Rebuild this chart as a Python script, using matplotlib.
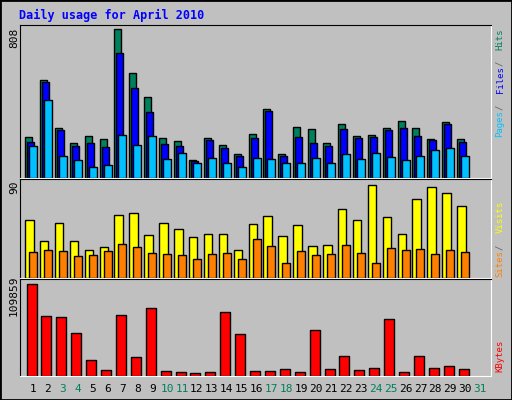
import numpy as np
import matplotlib.pyplot as plt

days = list(range(1, 32))
hits = [223, 534, 271, 188, 227, 210, 808, 567, 441, 216, 199, 95, 216, 177, 128,
        238, 375, 128, 276, 265, 188, 292, 227, 232, 271, 309, 271, 210, 303, 210]
files = [194, 523, 260, 172, 188, 166, 676, 490, 358, 183, 172, 90, 205, 161, 122,
         216, 364, 122, 221, 188, 172, 265, 216, 221, 260, 271, 227, 205, 292, 194]
pages = [172, 424, 117, 95, 62, 68, 232, 177, 227, 101, 133, 84, 106, 79, 62,
         106, 101, 79, 84, 106, 79, 128, 101, 133, 112, 95, 117, 150, 161, 122]
visits = [56, 36, 53, 36, 27, 30, 61, 63, 42, 53, 47, 40, 43, 43, 27,
          52, 60, 41, 51, 31, 32, 67, 56, 90, 59, 43, 76, 88, 82, 70]
sites = [25, 27, 26, 21, 22, 26, 33, 30, 24, 23, 22, 18, 23, 24, 18,
         38, 31, 15, 26, 22, 23, 32, 24, 15, 29, 27, 28, 23, 27, 25]
kbytes = [109859, 71370, 70166, 50920, 18444, 7618, 72573, 22052, 80993, 6415,
          5212, 4009, 5212, 76181, 49717, 6415, 6415, 8821, 5212, 54529,
          8821, 23255, 7618, 10024, 67760, 5212, 23255, 10024, 12430, 8821]
weekend = [3, 4, 10, 11, 17, 18, 24, 25, 31]

W, H = 512, 400
fig = plt.figure(figsize=(W / 100, H / 100), dpi=100, facecolor='#C0C0C0')
mono = 'DejaVu Sans Mono'
x = np.arange(1, 31)
step = 14.9  # px per day


def panel(y0, y1):
    ax = fig.add_axes([20 / W, 1 - y1 / H, 471 / W, (y1 - y0) / H])
    ax.set_facecolor('#C0C0C0')
    ax.set_xlim(1 - 13 / step, 1 + 458 / step)
    for s in ['left', 'top']:
        ax.spines[s].set_color('black')
    for s in ['right', 'bottom']:
        ax.spines[s].set_color('white')
    ax.set_xticks([])
    ax.set_yticks([])
    return ax


kw = dict(align='edge', edgecolor='black', linewidth=1)

ax1 = panel(25, 178)
ax1.bar(x - 8 / step, hits, 7 / step, color='#00805C', **kw)
ax1.bar(x - 6 / step, files, 7 / step, color='#0000FF', **kw)
ax1.bar(x - 4 / step, pages, 8 / step, color='#00C0FF', **kw)
ax1.set_ylim(0, 808 * 151 / 147)

ax2 = panel(179, 278)
ax2.bar(x - 8 / step, visits, 8.5 / step, color='#FFFF00', **kw)
ax2.bar(x - 4 / step, sites, 8 / step, color='#FF8000', **kw)
ax2.set_ylim(0, 90 * 99 / 93)

ax3 = panel(279, 376)
ax3.bar(x - 6.5 / step, kbytes, 10 / step, color='#FF0000', **kw)
ax3.set_ylim(0, 109859 * 96 / 91.5)

fig.text(19 / W, 1 - 15 / H, 'Daily usage for April 2010', color='#0000FF',
         family=mono, weight='bold', fontsize=8.5, va='center')
fig.text(14 / W, 1 - 38 / H, '808', rotation=90, family=mono, fontsize=8, ha='center', va='center')
fig.text(14 / W, 1 - 187 / H, '90', rotation=90, family=mono, fontsize=8, ha='center', va='center')
fig.text(14 / W, 1 - 296 / H, '109859', rotation=90, family=mono, fontsize=8, ha='center', va='center')

# right side legends, drawn piece by piece upward
xr = 500 / W
cw = 5.45


def vlegend(parts, ybottom):
    y = ybottom
    for txt, c in parts:
        fig.text(xr, 1 - y / H, txt.strip(), rotation=90, color=c, family=mono,
                 fontsize=6.5, ha='center', va='bottom')
        y -= len(txt) * cw


vlegend([('Pages', '#00C0FF'), (' / ', '#606060'), ('Files', '#0000FF'),
         (' / ', '#606060'), ('Hits', '#00805C')], 137)
vlegend([('Sites', '#FF8000'), (' / ', '#606060'), ('Visits', '#FFFF00')], 277)
fig.text(xr, 1 - 372 / H, 'KBytes', rotation=90, color='#FF0000', family=mono,
         fontsize=6.5, ha='center', va='bottom')

for d in days:
    c = '#00805C' if d in weekend else 'black'
    fig.text((33 + step * (d - 1)) / W, 1 - 389 / H, str(d), color=c, family=mono,
             fontsize=8, ha='center', va='center')

fig.patches.append(plt.Rectangle((0, 0), 1, 1, transform=fig.transFigure,
                                 fill=False, edgecolor='black', linewidth=2))
fig.savefig('out.png', dpi=100, facecolor=fig.get_facecolor())
